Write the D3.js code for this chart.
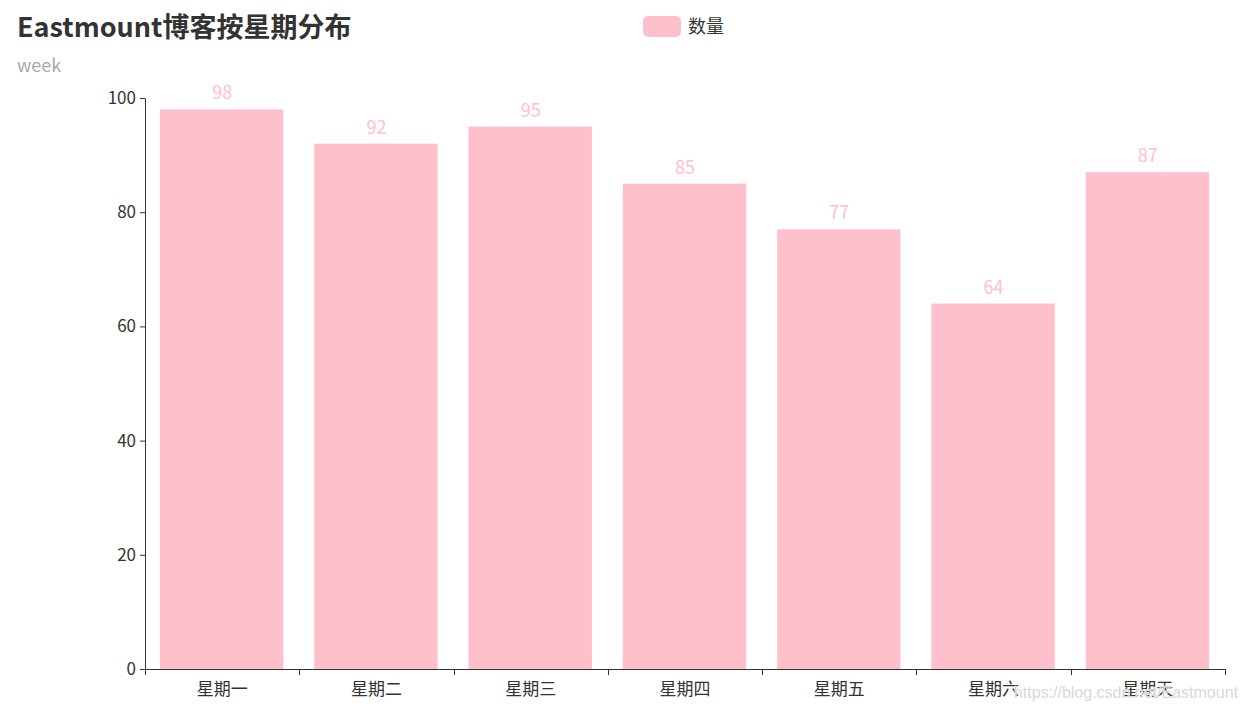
<!doctype html>
<html lang="zh">
<head>
<meta charset="utf-8">
<title>Eastmount博客按星期分布</title>
<script src="https://cdn.jsdelivr.net/npm/d3@7/dist/d3.min.js"></script>
<style>
  body { margin: 0; background: #fff; }
  svg { display: block; font-family: "Noto Sans CJK SC", "Noto Sans", sans-serif; }
</style>
</head>
<body>
<svg id="chart" width="1248" height="713"></svg>
<script>
var days = ['星期一', '星期二', '星期三', '星期四', '星期五', '星期六', '星期天'];
var counts = [98, 92, 95, 85, 77, 64, 87];
var yTicks = [0, 20, 40, 60, 80, 100];

var svg = d3.select('#chart');
var pink = '#ffc0cb';

var band = d3.scaleBand().domain(days).range([145, 1225]);
var y = d3.scaleLinear().domain([0, 100]).range([669, 98]);
var barW = band.bandwidth() * 0.8;

// title
svg.append('text').attr('x', 17).attr('y', 37)
  .attr('font-size', 27).attr('font-weight', 'bold').attr('fill', '#333')
  .text('Eastmount博客按星期分布');
svg.append('text').attr('x', 17).attr('y', 72)
  .attr('font-size', 18).attr('fill', '#aaa').text('week');

// legend
svg.append('rect').attr('x', 643).attr('y', 16).attr('width', 38).attr('height', 21)
  .attr('rx', 5).attr('fill', pink);
svg.append('text').attr('x', 688).attr('y', 33)
  .attr('font-size', 18).attr('fill', '#333').text('数量');

// bars
svg.selectAll('.bar').data(counts).enter().append('rect')
  .attr('class', 'bar')
  .attr('x', function(d, i) { return band(days[i]) + (band.bandwidth() - barW) / 2 - 0.5; })
  .attr('y', function(d) { return y(d); })
  .attr('width', barW)
  .attr('height', function(d) { return y(0) - y(d); })
  .attr('fill', pink);

svg.selectAll('.val').data(counts).enter().append('text')
  .attr('x', function(d, i) { return band(days[i]) + band.bandwidth() / 2; })
  .attr('y', function(d) { return y(d) - 10; })
  .attr('text-anchor', 'middle').attr('font-size', 18).attr('fill', pink)
  .text(function(d) { return d; });

// y axis
var yAxis = svg.append('g').attr('transform', 'translate(145,0)')
  .call(d3.axisLeft(y).tickValues(yTicks).tickSize(5).tickPadding(4).tickSizeOuter(0));
yAxis.select('.domain').attr('stroke', '#333');
yAxis.selectAll('.tick line').attr('stroke', '#333');
yAxis.selectAll('.tick text').attr('font-size', 17).attr('fill', '#333')
  .attr('font-family', '"Noto Sans CJK SC", sans-serif');

// x axis, ticks at band boundaries
var xAxis = svg.append('g').attr('transform', 'translate(0,669)');
xAxis.append('line').attr('x1', 145).attr('x2', 1225).attr('y1', 0.5).attr('y2', 0.5)
  .attr('stroke', '#333');
var edges = days.map(function(d) { return band(d); }).concat([1225]);
xAxis.selectAll('.xt').data(edges).enter().append('line')
  .attr('x1', function(d) { return Math.round(d) + 0.5; })
  .attr('x2', function(d) { return Math.round(d) + 0.5; })
  .attr('y1', 0).attr('y2', 6).attr('stroke', '#333');
xAxis.selectAll('.xl').data(days).enter().append('text')
  .attr('x', function(d) { return band(d) + band.bandwidth() / 2; })
  .attr('y', 26).attr('text-anchor', 'middle').attr('font-size', 17).attr('fill', '#333')
  .text(function(d) { return d; });

// watermark
svg.append('text').attr('x', 1238).attr('y', 698).attr('text-anchor', 'end')
  .attr('font-size', 16).attr('fill', '#d8d8d8')
  .attr('font-family', '"Liberation Sans", Arial, sans-serif')
  .style('paint-order', 'stroke').attr('stroke', '#fff').attr('stroke-width', 0.6)
  .text('https://blog.csdn.net/Eastmount');
</script>
</body>
</html>
